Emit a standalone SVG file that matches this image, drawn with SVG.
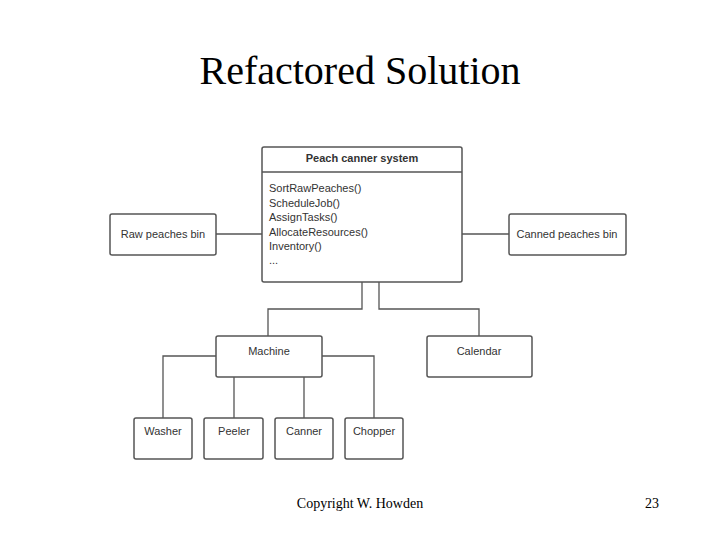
<svg xmlns="http://www.w3.org/2000/svg" width="720" height="540" viewBox="0 0 720 540">
<style>
.b{fill:#fff;stroke:#555;stroke-width:1.5}
.t{font-family:"Liberation Sans",Arial,sans-serif;font-size:11px;fill:#333}
.c{text-anchor:middle}
.l{fill:none;stroke:#555;stroke-width:1.3}
</style>
<rect width="720" height="540" fill="#fff"/>
<text x="360" y="84" text-anchor="middle" font-family="Liberation Serif,serif" font-size="40" fill="#000">Refactored Solution</text>
<g id="connectors">
<path class="l" d="M216 234H262M462 234H509M362 282V309H268V337M379 282V309H479V336M216 356H163V418M322 356H374V418M234 377V418M304 377V418"/>
</g>
<g id="main"><rect class="b" x="262" y="147" width="200" height="135" rx="2"/><line class="l" x1="262" y1="172" x2="462" y2="172"/>
<text class="t c" x="362" y="162" font-weight="bold">Peach canner system</text>
<text class="t" x="269" y="192">SortRawPeaches()</text>
<text class="t" x="269" y="206.5">ScheduleJob()</text>
<text class="t" x="269" y="221">AssignTasks()</text>
<text class="t" x="269" y="235.5">AllocateResources()</text>
<text class="t" x="269" y="250">Inventory()</text>
<text class="t" x="269" y="264">...</text></g>
<g id="raw"><rect class="b" x="110" y="214" width="106" height="41" rx="2"/><text class="t c" x="163" y="238">Raw peaches bin</text></g>
<g id="canned"><rect class="b" x="509" y="214" width="117" height="41" rx="2"/><text class="t c" x="567" y="238">Canned peaches bin</text></g>
<g id="machine"><rect class="b" x="216" y="336" width="106" height="41" rx="2"/><text class="t c" x="269" y="355">Machine</text></g>
<g id="calendar"><rect class="b" x="427" y="336" width="105" height="41" rx="2"/><text class="t c" x="479" y="355">Calendar</text></g>
<g id="washer"><rect class="b" x="134" y="418" width="58" height="41" rx="2"/><text class="t c" x="163" y="435">Washer</text></g>
<g id="peeler"><rect class="b" x="204" y="418" width="59" height="41" rx="2"/><text class="t c" x="234" y="435">Peeler</text></g>
<g id="canner"><rect class="b" x="275" y="418" width="58" height="41" rx="2"/><text class="t c" x="304" y="435">Canner</text></g>
<g id="chopper"><rect class="b" x="345" y="418" width="58" height="41" rx="2"/><text class="t c" x="374" y="435">Chopper</text></g>
<text x="360" y="508" text-anchor="middle" font-family="Liberation Serif,serif" font-size="14">Copyright W. Howden</text>
<text x="652" y="508" text-anchor="middle" font-family="Liberation Serif,serif" font-size="14">23</text>
</svg>
